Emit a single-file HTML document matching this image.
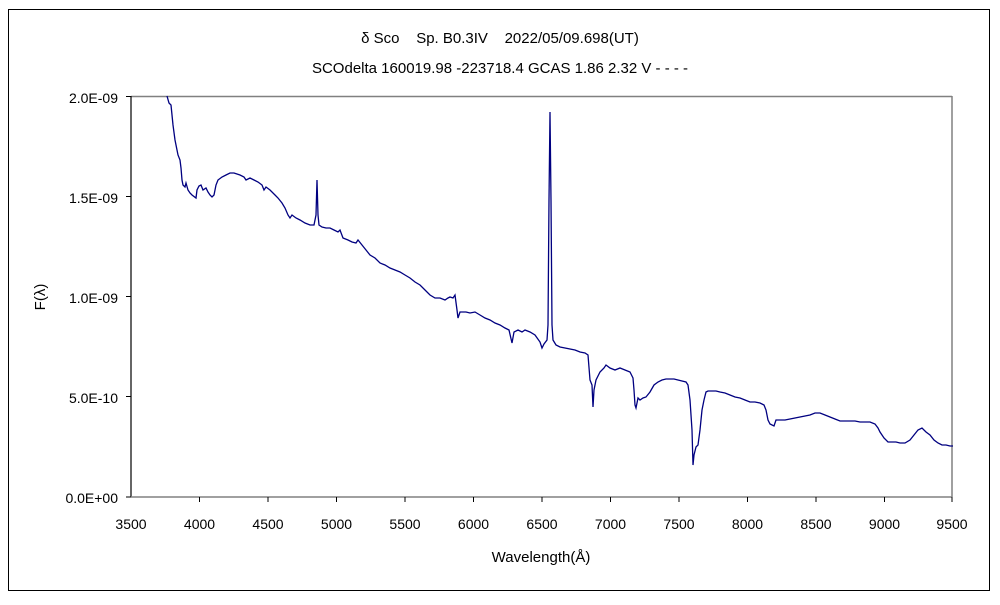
<!DOCTYPE html>
<html><head><meta charset="utf-8"><style>
body{margin:0;background:#fff;width:1000px;height:600px;overflow:hidden}
svg text{font-family:"Liberation Sans","Noto Sans CJK JP",sans-serif;fill:#000;white-space:pre}
</style></head><body>
<svg width="1000" height="600" viewBox="0 0 1000 600" xml:space="preserve">
<rect x="8.5" y="9.5" width="981" height="581" fill="#fff" stroke="#000" stroke-width="1"/>
<text x="500" y="43" font-size="15" text-anchor="middle">δ Sco    Sp. B0.3IV    2022/05/09.698(UT)</text>
<text x="500" y="73" font-size="15" text-anchor="middle">SCOdelta 160019.98 -223718.4 GCAS 1.86 2.32 V - - - -</text>
<line x1="131" y1="96.5" x2="952" y2="96.5" stroke="#808080" stroke-width="1.5"/>
<line x1="952" y1="96" x2="952" y2="497" stroke="#808080" stroke-width="1.5"/>
<line x1="131" y1="96" x2="131" y2="497" stroke="#000" stroke-width="1.2"/>
<line x1="131" y1="497" x2="952" y2="497" stroke="#808080" stroke-width="1.5"/>
<g stroke="#000" stroke-width="1">
<line x1="126" y1="96.5" x2="131" y2="96.5"/><line x1="126" y1="196.5" x2="131" y2="196.5"/><line x1="126" y1="296.5" x2="131" y2="296.5"/><line x1="126" y1="396.5" x2="131" y2="396.5"/><line x1="126" y1="497" x2="131" y2="497"/>
<line x1="199.5" y1="497" x2="199.5" y2="502"/><line x1="268" y1="497" x2="268" y2="502"/><line x1="336.5" y1="497" x2="336.5" y2="502"/><line x1="405" y1="497" x2="405" y2="502"/><line x1="473.5" y1="497" x2="473.5" y2="502"/><line x1="542" y1="497" x2="542" y2="502"/><line x1="610.5" y1="497" x2="610.5" y2="502"/><line x1="679" y1="497" x2="679" y2="502"/><line x1="747.5" y1="497" x2="747.5" y2="502"/><line x1="816" y1="497" x2="816" y2="502"/><line x1="884.5" y1="497" x2="884.5" y2="502"/><line x1="952" y1="497" x2="952" y2="502"/>
</g>
<g font-size="14" text-anchor="end">
<text x="118" y="103">2.0E-09</text><text x="118" y="203">1.5E-09</text><text x="118" y="303">1.0E-09</text><text x="118" y="403">5.0E-10</text><text x="118" y="503">0.0E+00</text>
</g>
<g font-size="14" text-anchor="middle">
<text x="131" y="529">3500</text><text x="199.5" y="529">4000</text><text x="268" y="529">4500</text><text x="336.5" y="529">5000</text><text x="405" y="529">5500</text><text x="473.5" y="529">6000</text><text x="542" y="529">6500</text><text x="610.5" y="529">7000</text><text x="679" y="529">7500</text><text x="747.5" y="529">8000</text><text x="816" y="529">8500</text><text x="884.5" y="529">9000</text><text x="952" y="529">9500</text>
</g>
<text x="541" y="562" font-size="15" text-anchor="middle">Wavelength(Å)</text>
<text transform="translate(45,297) rotate(-90)" font-size="15" text-anchor="middle">F(λ)</text>
<polyline fill="none" stroke="#000080" stroke-width="1.3" points="167,96 169,103 171,105 172,115 173,125 175,140 177,150 178,155 180,160 181,168 182,180 183,185 185,187 186,183 188,190 190,193 192,195 196,198 197,190 199,186 201,185 203,190 206,188 208,192 210,195 212,197 214,195 216,185 218,180 222,177 226,175 230,173 234,173 240,175 244,177 246,180 250,178 254,180 258,182 262,185 264,190 266,187 270,190 275,195 278,198 282,203 285,208 288,215 290,218 292,215 296,218 300,220 305,223 310,225 314,225 316,215 317,180 318,215 319,225 322,227 326,228 330,228 334,230 338,232 340,230 343,238 348,240 352,242 356,243 358,240 362,245 366,250 370,255 375,258 380,263 385,265 390,268 395,270 400,272 405,275 410,278 415,282 420,285 425,290 430,295 435,298 440,298 445,300 448,298 450,297 453,298 455,295 457,310 458,318 460,312 463,312 466,312 470,313 475,312 480,315 485,318 490,320 495,323 500,325 505,328 509,330 512,343 514,332 518,330 522,332 525,330 530,332 535,335 540,342 542,348 544,344 547,340 548,325 549,200 550,112 551,200 552,325 553,340 556,345 560,347 565,348 570,349 575,350 580,352 585,353 588,355 590,380 592,385 593,407 594,390 596,380 600,372 604,368 606,365 610,368 615,370 620,368 625,370 630,372 633,378 634,390 635,405 636,408 638,398 640,400 643,398 646,397 650,392 654,385 658,382 662,380 666,379 670,379 674,379 678,380 682,381 686,382 688,385 690,400 692,430 693,465 694,455 696,447 698,445 700,430 702,410 704,400 706,392 708,391 712,391 716,391 720,392 725,393 730,395 735,397 740,398 745,400 750,402 755,402 760,403 764,405 766,410 768,420 770,424 774,426 776,420 780,420 785,420 790,419 795,418 800,417 805,416 810,415 815,413 820,413 825,415 830,417 835,419 840,421 845,421 850,421 855,421 860,422 865,422 870,422 875,424 878,428 880,432 884,438 888,442 892,442 896,442 900,443 905,443 910,440 914,435 918,430 922,428 926,432 930,435 934,440 938,443 942,445 946,445 950,446 953,446"/>
</svg>
</body></html>
